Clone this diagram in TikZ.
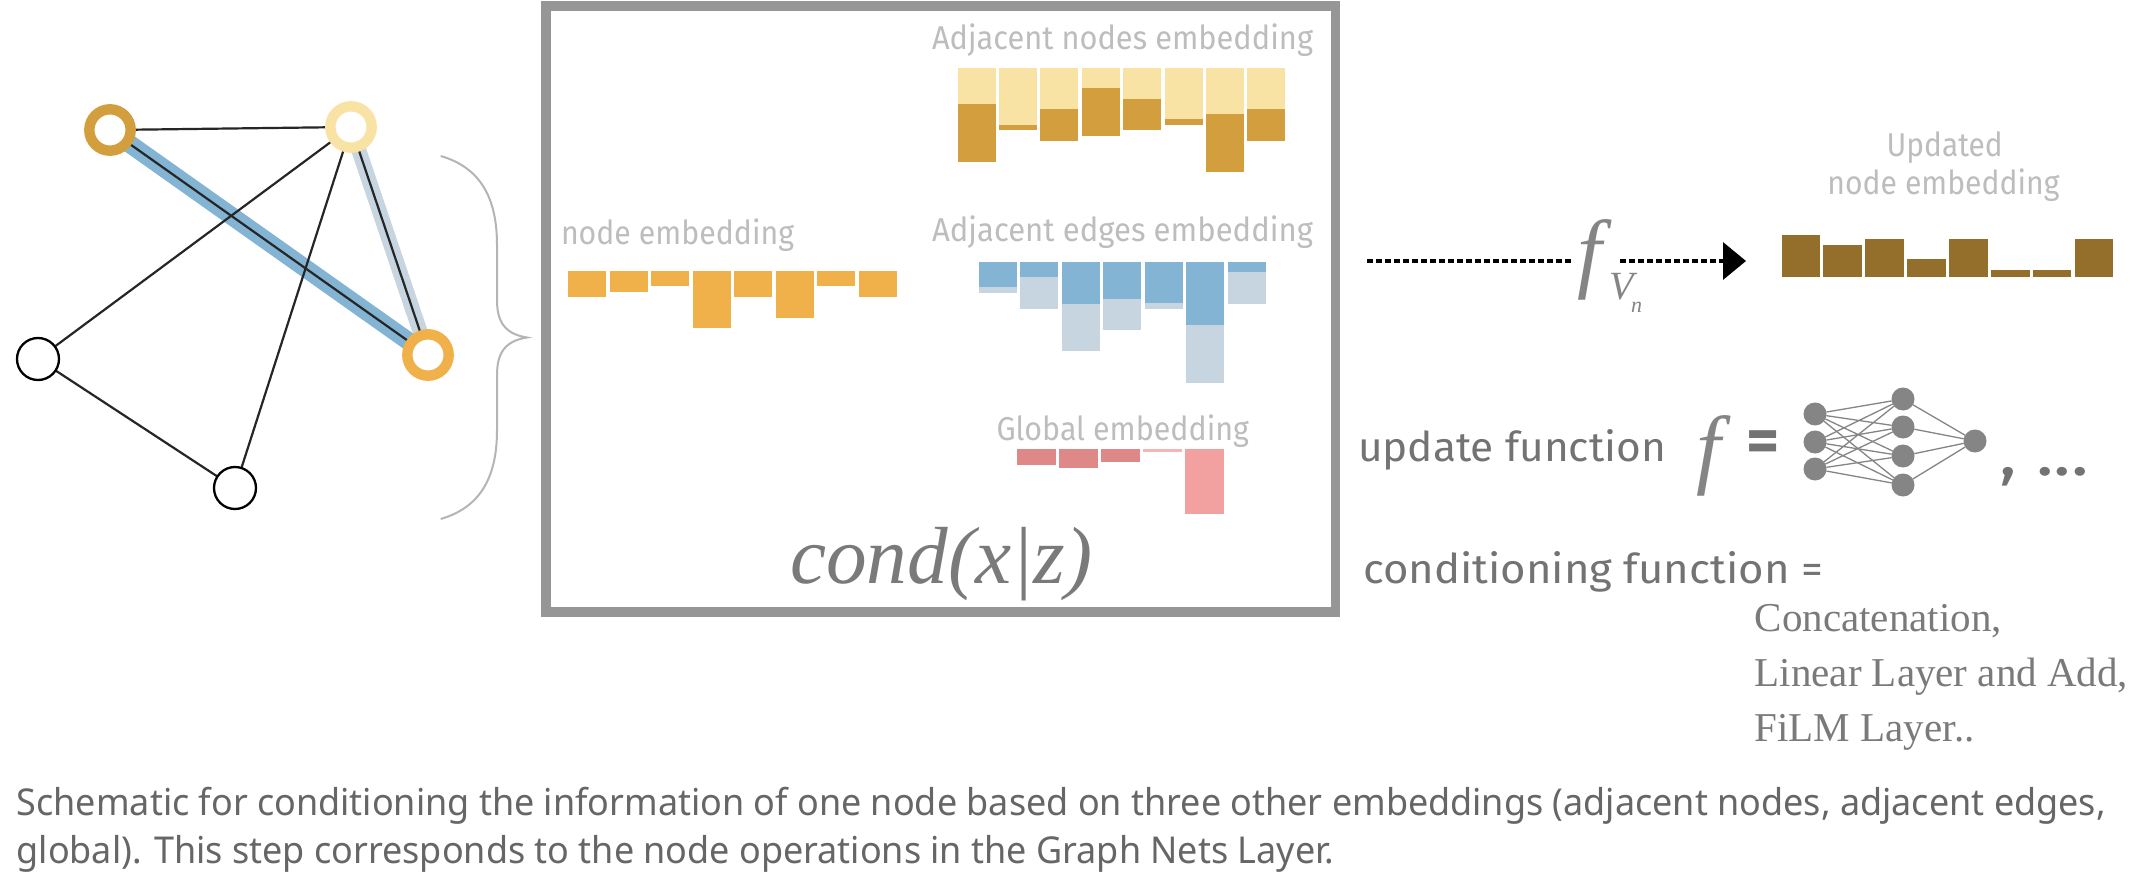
\documentclass[tikz,border=0pt]{standalone}
\usepackage{fontspec}
\usepackage{graphicx}
\usetikzlibrary{arrows.meta}
\newfontfamily\labfont{Fira Sans}
\newfontfamily\capfont{Noto Sans}
\newfontfamily\serfont{Liberation Serif}
\definecolor{boxgray}{HTML}{969696}
\definecolor{labgray}{HTML}{BDBDBD}
\definecolor{txtgray}{HTML}{737373}
\definecolor{capgray}{HTML}{666666}
\definecolor{sergray}{HTML}{7A7A7A}
\definecolor{gold}{HTML}{D39E3E}
\definecolor{paleyel}{HTML}{F8E3A5}
\definecolor{orng}{HTML}{F0B04A}
\definecolor{eblue}{HTML}{84B4D4}
\definecolor{epale}{HTML}{C6D5E0}
\definecolor{gred}{HTML}{DE8888}
\definecolor{gpink}{HTML}{F2A0A0}
\definecolor{gthin}{HTML}{F5B5B5}
\definecolor{ubrown}{HTML}{946F2C}
\definecolor{nngray}{HTML}{858585}
\definecolor{bracegray}{HTML}{B5B5B5}
\newcommand{\fitw}[2]{\resizebox{#1}{\height}{#2}}
\pgfdeclarelayer{back}
\pgfdeclarelayer{bg}
\pgfsetlayers{back,bg,main}
\newlength\capw
\newcommand{\capone}{Schematic for conditioning the information of one node based on three other embeddings (adjacent nodes, adjacent edges,}
\newcommand{\captwo}{global). This step corresponds to the node operations in the Graph Nets Layer.}
\begin{document}
\settowidth\capw{\capfont\fontsize{37}{44}\selectfont\capone}
\pgfmathsetmacro\capsx{2089/\capw}
\begin{tikzpicture}[x=1pt,y=-1pt,
  ring/.style={circle, draw, fill=white, inner sep=0pt, outer sep=0pt, minimum size=41.4pt, line width=10.4pt},
  plainnode/.style={circle, draw=black, fill=white, inner sep=0pt, outer sep=0pt, minimum size=42pt, line width=2.3pt},
  gedge/.style={draw=black!85, line width=2.2pt},
  lab/.style={font=\labfont\fontsize{33}{40}\selectfont, text=labgray, inner sep=0pt, outer sep=0pt},
  bigtxt/.style={font=\labfont\fontsize{41}{48}\selectfont, text=txtgray, inner sep=0pt, outer sep=0pt},
  sertxt/.style={font=\serfont\fontsize{41}{48}\selectfont, text=sergray, inner sep=0pt, outer sep=0pt, anchor=base west},
  itf/.style={font=\serfont\itshape\fontsize{88}{96}\selectfont, text=nngray, inner sep=0pt, outer sep=0pt, anchor=base},
  captxt/.style={font=\capfont\fontsize{37}{44}\selectfont, text=capgray, inner sep=0pt, outer sep=0pt, anchor=base west},
  nn/.style={circle, fill=nngray, inner sep=0pt, outer sep=0pt, minimum size=23pt},
  nnedge/.style={draw=nngray, line width=1.3pt},
  dotline/.style={draw=black, line width=3.5pt, dash pattern=on 5.5pt off 3.5pt}
]
\useasboundingbox (0,0) rectangle (2138,882);
\begin{pgfonlayer}{back}
  \fill[white] (0,0) rectangle (2138,882);
\end{pgfonlayer}

% ---------------- graph ----------------
\node[ring, draw=gold] (A) at (110,130) {};
\node[ring, draw=paleyel] (B) at (351,127) {};
\node[ring, draw=orng] (C) at (428,355) {};
\node[plainnode] (D) at (38,359) {};
\node[plainnode] (E) at (235,488) {};
\begin{pgfonlayer}{bg}
  \draw[eblue, line width=18pt] (A) -- (C);
  \draw[epale, line width=15pt] (B) -- (C);
  \draw[gedge] (A) -- (B);
  \draw[gedge] (A) -- (C);
  \draw[gedge] (B) -- (C);
  \draw[gedge] (B) -- (D);
  \draw[gedge] (B) -- (E);
  \draw[gedge] (D) -- (E);
\end{pgfonlayer}

% brace
\draw[bracegray, line width=2pt] (440.7,156) .. controls (482,168) and (497,200) .. (497,245) -- (497,300) .. controls (497,322) and (505,334) .. (527,337.5) .. controls (505,341) and (497,353) .. (497,375) -- (497,430) .. controls (497,475) and (482,507) .. (440.7,519);

% ---------------- box ----------------
\node[draw=boxgray, line width=9.5pt, minimum width=789.5pt, minimum height=606pt, inner sep=0pt] (box) at (940.75,309) {};

% labels in box
\node[lab, anchor=base west] (lAN) at (932,50) {\fitw{381pt}{Adjacent nodes embedding}};
\node[lab, anchor=base west] (lNE) at (561,245) {\fitw{233pt}{node embedding}};
\node[lab, anchor=base west] (lAE) at (932,242) {\fitw{381pt}{Adjacent edges embedding}};
\node[lab, anchor=base west] (lGE) at (996.5,440.7) {\fitw{252.5pt}{Global embedding}};

% adjacent nodes bars
\foreach \i/\s/\b in {0/104/162, 1/125/130, 2/109/140.7, 3/88.3/135.7, 4/99/130, 5/119.3/125, 6/114.3/172.3, 7/109/140.7} {
  \pgfmathsetmacro\xx{957.5+41.4*\i}
  \fill[paleyel] (\xx,67.7) rectangle (\xx+38,\s);
  \fill[gold] (\xx,\s) rectangle (\xx+38,\b);
}
% node embedding bars
\foreach \i/\b in {0/296.7, 1/291.7, 2/286, 3/328.3, 4/296.7, 5/317.7, 6/286, 7/296.7} {
  \pgfmathsetmacro\xx{568+41.5*\i}
  \fill[orng] (\xx,270.7) rectangle (\xx+38,\b);
}
% adjacent edges bars
\foreach \i/\s/\b in {0/287.3/293.3, 1/277.3/309, 2/304/351, 3/299/330, 4/303.3/309, 5/325/382.7, 6/272.3/304} {
  \pgfmathsetmacro\xx{978.8+41.5*\i}
  \fill[eblue] (\xx,262) rectangle (\xx+38,\s);
  \fill[epale] (\xx,\s) rectangle (\xx+38,\b);
}
% global bars
\fill[gred] (1017,449.3) rectangle (1056,465.3);
\fill[gred] (1059,449.3) rectangle (1098,467.7);
\fill[gred] (1101,449.3) rectangle (1140,462.3);
\fill[gthin] (1143,449.3) rectangle (1182,451.7);
\fill[gpink] (1185,449.3) rectangle (1224,514.3);

% cond(x|z)
\node[font=\serfont\itshape\fontsize{81}{90}\selectfont, text=sergray, anchor=base west, inner sep=0pt] (cond) at (790,583) {\fitw{302pt}{cond(x|z)}};

% ---------------- update arrow ----------------
\coordinate (ds) at (1367,261);
\coordinate (gapL) at (1572,261);
\coordinate (gapR) at (1620,261);
\coordinate (ae) at (1746,261);
\draw[dotline] (ds) -- (gapL);
\draw[dotline, -{Triangle[length=23pt,width=37pt]}] (gapR) -- (ae);
\node[itf] (fv) at (1590,282) {f};
\node[font=\serfont\itshape\fontsize{40}{46}\selectfont, text=nngray, anchor=base west, inner sep=0pt] (fvV) at (1609,300) {V};
\node[font=\serfont\itshape\fontsize{22}{26}\selectfont, text=nngray, anchor=base west, inner sep=0pt] (fvn) at (1631,313) {n};

% updated embedding
\node[lab, anchor=base] (lUp) at (1944.7,156.7) {\fitw{116pt}{Updated}};
\node[lab, anchor=base west] (lUp2) at (1827.4,195) {\fitw{232pt}{node embedding}};
\foreach \i/\t in {0/235, 1/245.3, 2/239, 3/259.3, 4/239, 5/270, 6/270, 7/239} {
  \pgfmathsetmacro\xx{1781.5+41.9*\i}
  \fill[ubrown] (\xx,\t) rectangle (\xx+38.5,276.7);
}

% ---------------- update function ----------------
\node[bigtxt, anchor=base west] (uf) at (1358,461.7) {\fitw{308pt}{update function}};
\node[itf] (fu) at (1709,477) {f};
\node[font=\labfont\bfseries\fontsize{64}{70}\selectfont, text=txtgray, inner sep=0pt] (eq) at (1763,447) {=};
\node[nn] (i1) at (1815,414) {};
\node[nn] (i2) at (1815,442) {};
\node[nn] (i3) at (1815,469) {};
\node[nn] (h1) at (1903,399) {};
\node[nn] (h2) at (1903,427) {};
\node[nn] (h3) at (1903,456) {};
\node[nn] (h4) at (1903,485) {};
\node[nn] (o1) at (1975,441) {};
\foreach \a in {1,2,3} { \foreach \b in {1,2,3,4} { \draw[nnedge] (i\a) -- (h\b); } }
\foreach \b in {1,2,3,4} { \draw[nnedge] (h\b) -- (o1); }
\node[font=\labfont\fontsize{64}{70}\selectfont, text=txtgray, anchor=base west, inner sep=0pt] (etc) at (1999,475.5) {\fitw{90pt}{, ...}};

\node[bigtxt, anchor=base west] (cf) at (1363,583) {\fitw{460pt}{conditioning function =}};
\node[sertxt] (s1) at (1754.7,631.7) {Concatenation,};
\node[sertxt] (s2) at (1754.7,686.7) {Linear Layer and Add,};
\node[sertxt] (s3) at (1754.7,741.7) {FiLM Layer..};

% ---------------- caption ----------------
\node[captxt] (cap1) at (16.7,815) {\scalebox{\capsx}[1]{\capone}};
\node[captxt] (cap2) at (16.7,863) {\scalebox{\capsx}[1]{\captwo}};
\end{tikzpicture}
\end{document}
